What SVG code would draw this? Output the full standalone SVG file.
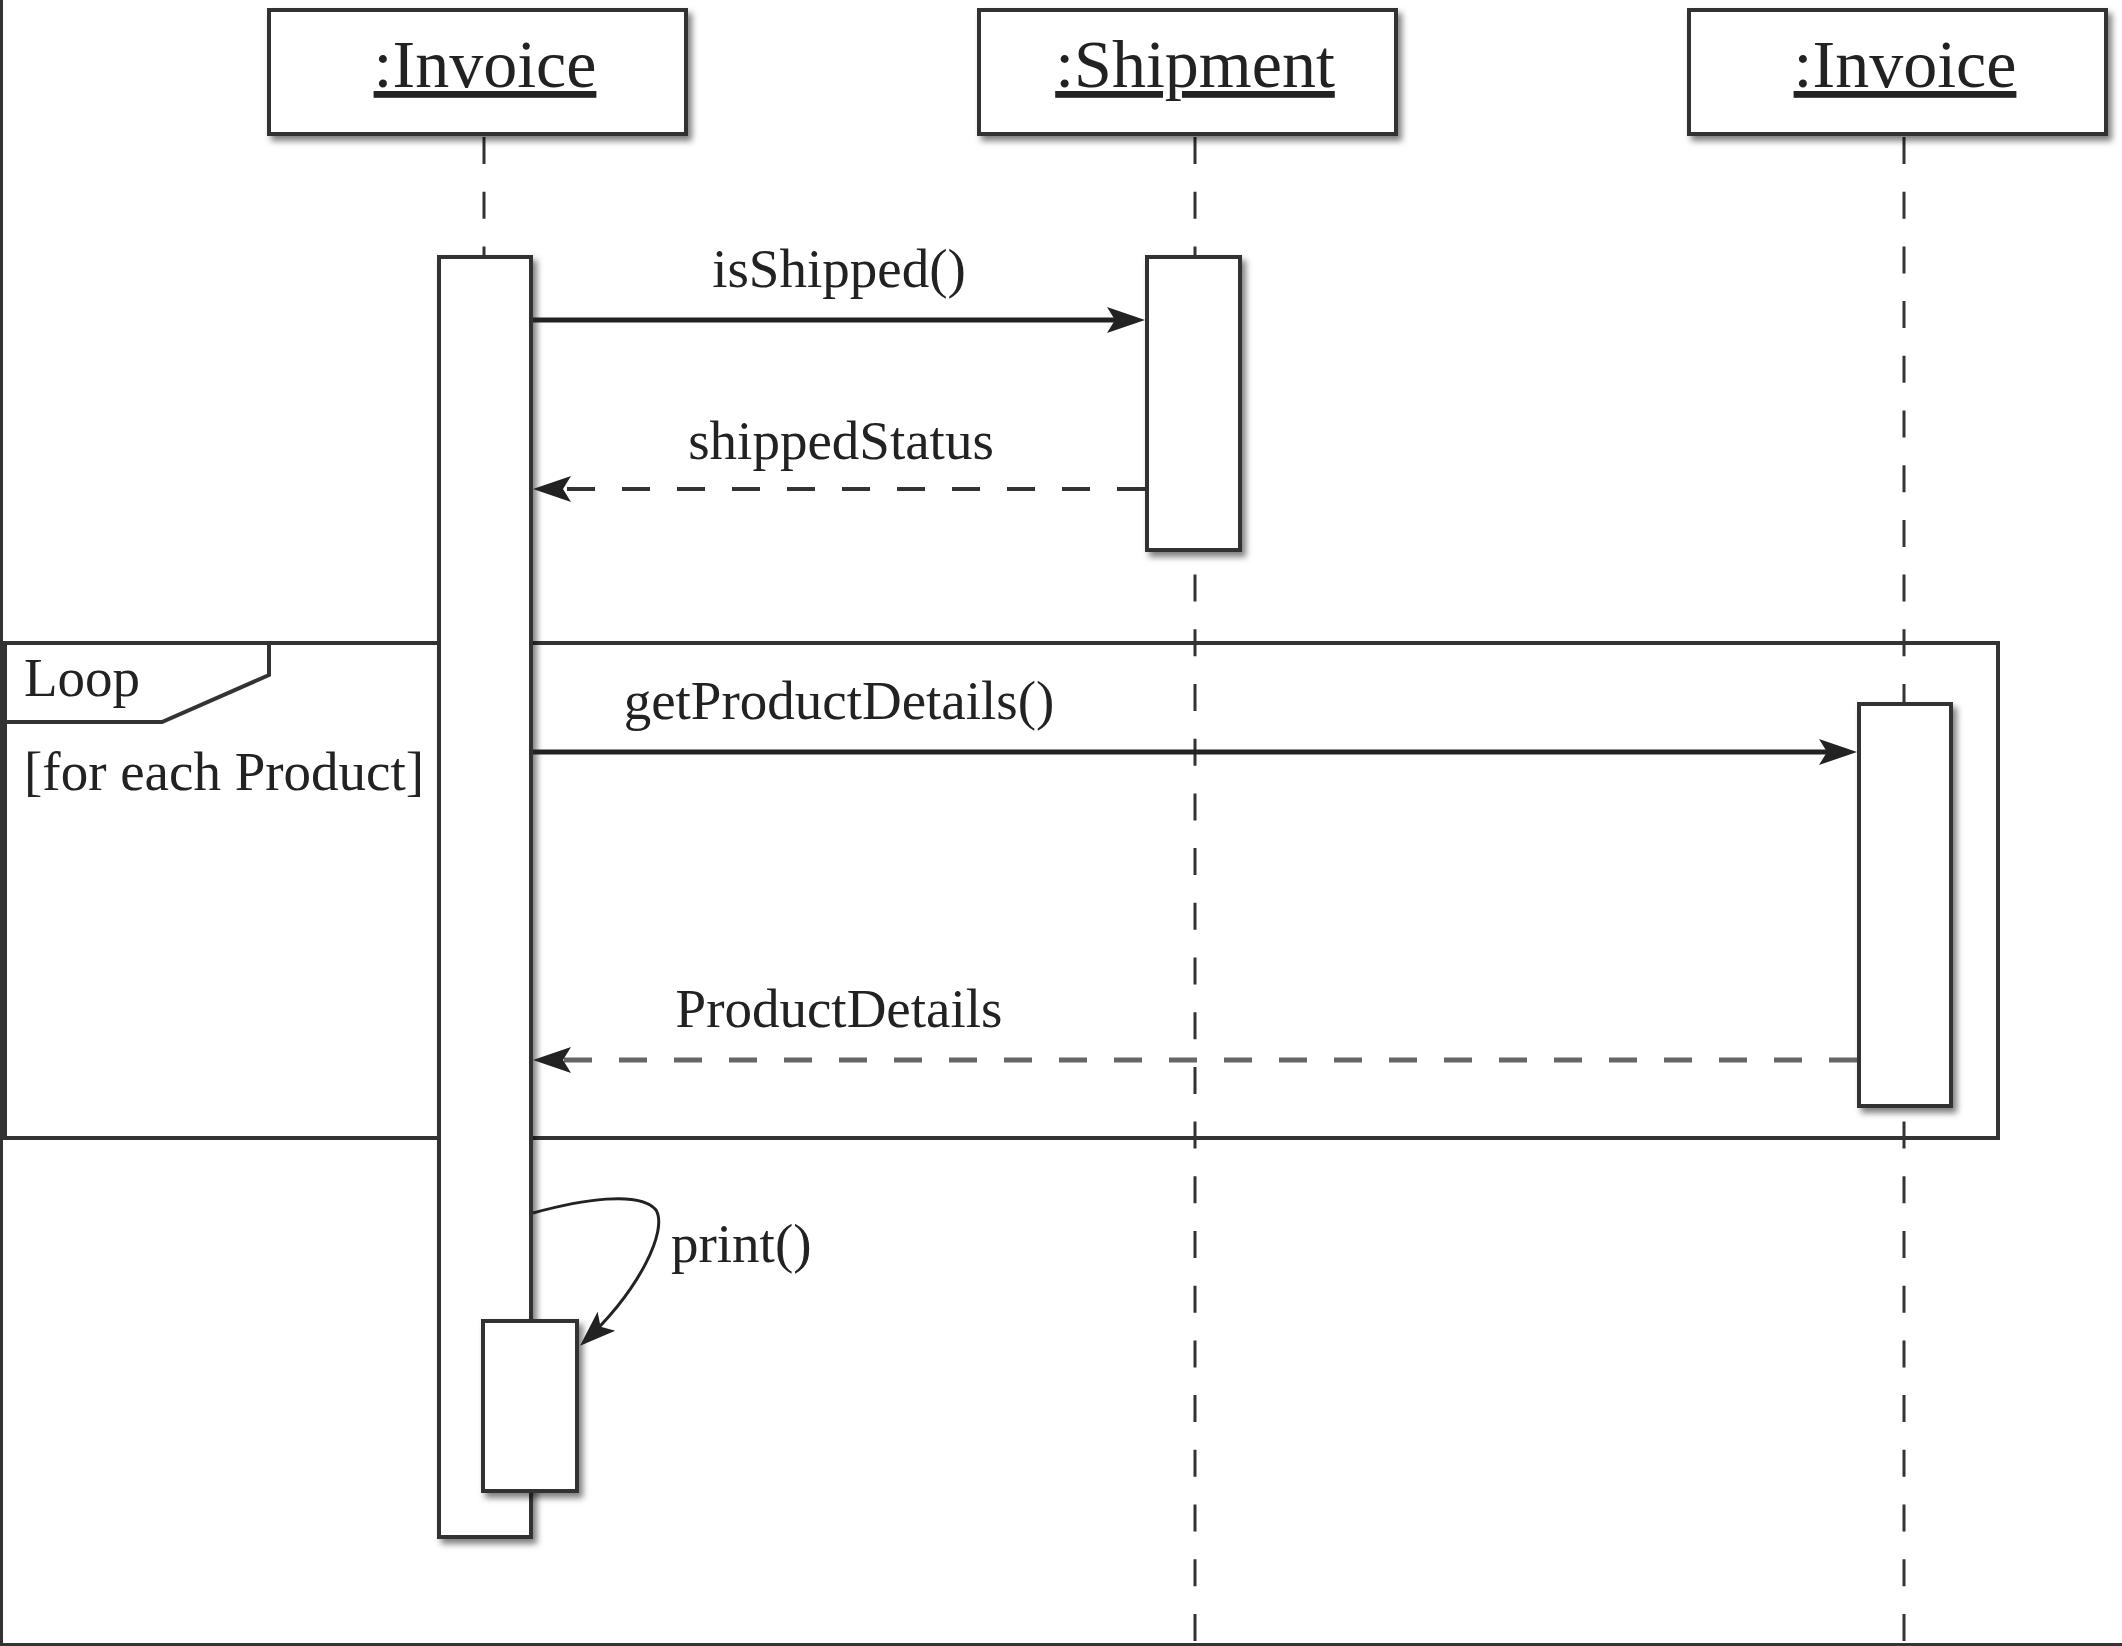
<svg xmlns="http://www.w3.org/2000/svg" width="2122" height="1646" viewBox="0 0 2122 1646">
<style>
.box{fill:#fff;stroke:#333;stroke-width:4;filter:url(#sh)}
.act{fill:#fff;stroke:#333;stroke-width:4;filter:url(#sh)}
.life{fill:none;stroke:#333;stroke-width:3;stroke-dasharray:27 27.7}
.hdr{font-family:"Liberation Serif",serif;font-size:68px;fill:#222;text-anchor:middle;text-decoration:underline}
.lbl{font-family:"Liberation Serif",serif;font-size:55px;fill:#222}
.mid{text-anchor:middle}
.call{fill:none;stroke:#222;stroke-width:5;marker-end:url(#arr)}
.ret{fill:none;stroke:#333;stroke-width:4;stroke-dasharray:28 27;marker-end:url(#arr)}
.ret2{fill:none;stroke:#666;stroke-width:5;stroke-dasharray:28 27;marker-end:url(#arr)}
.self{fill:none;stroke:#222;stroke-width:3;marker-end:url(#arrs)}
.frame{fill:none;stroke:#333;stroke-width:4}
</style>
<defs>
<filter id="sh" x="-20%" y="-20%" width="150%" height="150%">
<feDropShadow dx="4" dy="5" stdDeviation="3" flood-color="#000" flood-opacity="0.5"/>
</filter>
<marker id="arr" markerUnits="userSpaceOnUse" orient="auto" overflow="visible" markerWidth="1" markerHeight="1" refX="0" refY="0">
<path d="M8,0 L-30,-13 L-22,0 L-30,13 Z" fill="#222"/>
</marker>
<marker id="arrs" markerUnits="userSpaceOnUse" orient="auto" overflow="visible" markerWidth="1" markerHeight="1" refX="0" refY="0">
<path d="M4,0 L-32,-13 L-24,0 L-32,13 Z" fill="#222"/>
</marker>
</defs>
<rect x="0" y="0" width="2122" height="1646" fill="#fff"/>

<g id="lifelines">
<line class="life" x1="484" y1="137" x2="484" y2="260"/>
<line class="life" x1="1195" y1="137" x2="1195" y2="1646"/>
<line class="life" x1="1904" y1="137" x2="1904" y2="1646"/>
</g>

<g id="loop-frame">
<rect class="frame" x="5" y="643" width="1993" height="495"/>
<path class="frame" d="M5,722 L162,722 L269,675 L269,643"/>
<text class="lbl" x="24" y="696">Loop</text>
<text class="lbl" x="24" y="790">[for each Product]</text>
</g>

<g id="invoice1">
<rect class="box" x="269" y="10" width="417" height="124"/>
<text class="hdr" x="485" y="87">:Invoice</text>
</g>
<g id="shipment">
<rect class="box" x="979" y="10" width="417" height="124"/>
<text class="hdr" x="1195" y="87">:Shipment</text>
</g>
<g id="invoice2">
<rect class="box" x="1689" y="10" width="417" height="124"/>
<text class="hdr" x="1905" y="87">:Invoice</text>
</g>

<g id="activations">
<rect class="act" x="439" y="257" width="92" height="1280"/>
<rect class="act" x="1147" y="257" width="93" height="293"/>
<rect class="act" x="1859" y="704" width="92" height="402"/>
<rect class="act" x="483" y="1321" width="94" height="170"/>
</g>

<g id="connectors">
<line class="call" x1="533" y1="320" x2="1137" y2="320"/>
<line class="ret" x1="1145" y1="489" x2="541" y2="489"/>
<line class="call" x1="533" y1="752" x2="1849" y2="752"/>
<line class="ret2" x1="1857" y1="1060" x2="541" y2="1060"/>
<path class="self" d="M533,1213 C580,1200 640,1190 656,1210 C668,1230 640,1290 583,1343"/>
</g>

<g id="labels">
<text class="lbl mid" x="839" y="287">isShipped()</text>
<text class="lbl mid" x="841" y="459">shippedStatus</text>
<text class="lbl mid" x="839" y="719">getProductDetails()</text>
<text class="lbl mid" x="839" y="1027">ProductDetails</text>
<text class="lbl" x="671" y="1262">print()</text>
</g>

<g id="border">
<rect x="0" y="0" width="3" height="1646" fill="#333"/>
<rect x="0" y="1643" width="2122" height="3" fill="#333"/>
</g>
</svg>
